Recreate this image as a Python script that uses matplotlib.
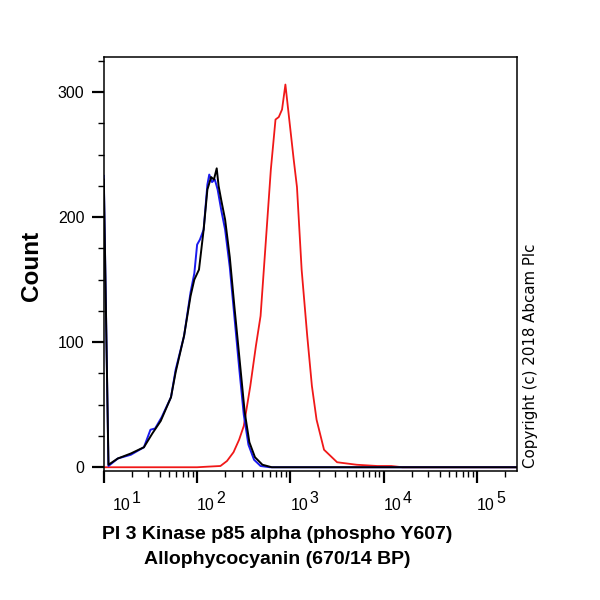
import numpy as np
import matplotlib
matplotlib.use("Agg")
import matplotlib.pyplot as plt
import matplotlib.transforms as mtransforms
from matplotlib.ticker import FixedLocator, NullFormatter

plt.rcParams['font.family'] = ['Liberation Sans', 'DejaVu Sans']

# histogram traces, x given in decades (log10 of intensity)
black_decade = [1.00, 1.05, 1.15, 1.29, 1.43, 1.52, 1.61, 1.72, 1.77, 1.86, 1.93, 1.97, 2.02, 2.07,
                2.11, 2.15, 2.18, 2.21, 2.23, 2.26, 2.30, 2.35, 2.40, 2.45, 2.51, 2.56, 2.62, 2.70, 2.80, 5.45]
black_count = [230, 2, 7, 11, 16, 27, 37, 56, 76, 105, 137, 150, 158, 190,
               222, 232, 230, 239, 225, 213, 198, 168, 128, 90, 44, 20, 8, 2, 0, 0]

blue_decade = [1.00, 1.05, 1.15, 1.29, 1.43, 1.50, 1.55, 1.62, 1.72, 1.77, 1.86, 1.93, 1.97, 2.00, 2.03, 2.07,
               2.11, 2.13, 2.16, 2.19, 2.22, 2.26, 2.30, 2.35, 2.40, 2.45, 2.50, 2.55, 2.61, 2.68, 2.78, 5.45]
blue_count = [233, 1, 7, 10, 16, 30, 31, 40, 56, 78, 105, 140, 155, 178, 182, 190,
              226, 234, 228, 230, 222, 205, 190, 160, 120, 80, 42, 18, 6, 1, 0, 0]

red_decade = [1.00, 2.00, 2.12, 2.25, 2.32, 2.39, 2.45, 2.50, 2.57, 2.63, 2.68, 2.73, 2.79, 2.84, 2.875, 2.91,
              2.946, 2.98, 3.035, 3.07, 3.12, 3.18, 3.23, 3.28, 3.36, 3.50, 3.71, 3.93, 4.08, 4.20, 5.45]
red_count = [0, 0, 0.5, 1, 5, 12, 22, 33, 65, 97, 121, 174, 238, 278, 280, 286,
             306, 283, 246, 224, 158, 105, 65, 38, 14, 4, 2, 1, 1, 0, 0]

x_major = [1e1, 1e2, 1e3, 1e4, 1e5]
x_exponents = ['1', '2', '3', '4', '5']
y_major = [0, 100, 200, 300]

fig = plt.figure(figsize=(6, 6), dpi=100)
ax = fig.add_axes([0.173, 0.215, 0.689, 0.69])

ax.plot(10 ** np.array(red_decade), red_count, color='#f01818', lw=1.3)
ax.plot(10 ** np.array(blue_decade), blue_count, color='#1a1aee', lw=1.4)
ax.plot(10 ** np.array(black_decade), black_count, color='black', lw=1.4)

ax.set_xscale('log')
ax.set_xlim(10, 10 ** 5.43)
ax.set_ylim(-3, 328)

# ticks
minor_x = [m * 10 ** e for e in range(1, 6) for m in range(2, 10) if m * 10 ** e < 10 ** 5.43]
ax.xaxis.set_major_locator(FixedLocator(x_major))
ax.xaxis.set_minor_locator(FixedLocator(minor_x))
ax.xaxis.set_major_formatter(NullFormatter())
ax.xaxis.set_minor_formatter(NullFormatter())
ax.set_yticks(y_major)
ax.set_yticks(np.arange(0, 330, 25), minor=True)

ax.tick_params(axis='both', which='major', direction='out', length=8.5, width=1.6, labelsize=11.5, pad=5.5)
ax.tick_params(axis='both', which='minor', direction='out', length=4.5, width=1.0)

# "10" with a full size raised exponent, like the cytometer export
trans = mtransforms.blended_transform_factory(ax.transData, ax.transAxes)
px = 1 / 100
for i, (xv, ex) in enumerate(zip(x_major, x_exponents)):
    dx = 8.5 * px if i == 0 else 0
    t0 = trans + mtransforms.ScaledTranslation(dx, -39 * px, fig.dpi_scale_trans)
    t1 = trans + mtransforms.ScaledTranslation(dx + 19 * px, -32 * px, fig.dpi_scale_trans)
    ax.text(xv, 0, '10', transform=t0, fontsize=11.5, ha='left', va='baseline', clip_on=False)
    ax.text(xv, 0, ex, transform=t1, fontsize=11.5, ha='left', va='baseline', clip_on=False)

for s in ax.spines.values():
    s.set_linewidth(1.1)

fig.text(0.053, 0.557, 'Count', rotation=90, fontsize=17.5, fontweight='bold', ha='center', va='center')
fig.text(0.462, 0.088, 'PI 3 Kinase p85 alpha (phospho Y607)\nAllophycocyanin (670/14 BP)',
         fontsize=14, fontweight='bold', ha='center', va='center', linespacing=1.6)
fig.text(0.885, 0.22, 'Copyright (c) 2018 Abcam Plc', rotation=90, fontsize=10.8,
         family='DejaVu Sans', ha='center', va='bottom')

fig.savefig('out.png', dpi=100)
